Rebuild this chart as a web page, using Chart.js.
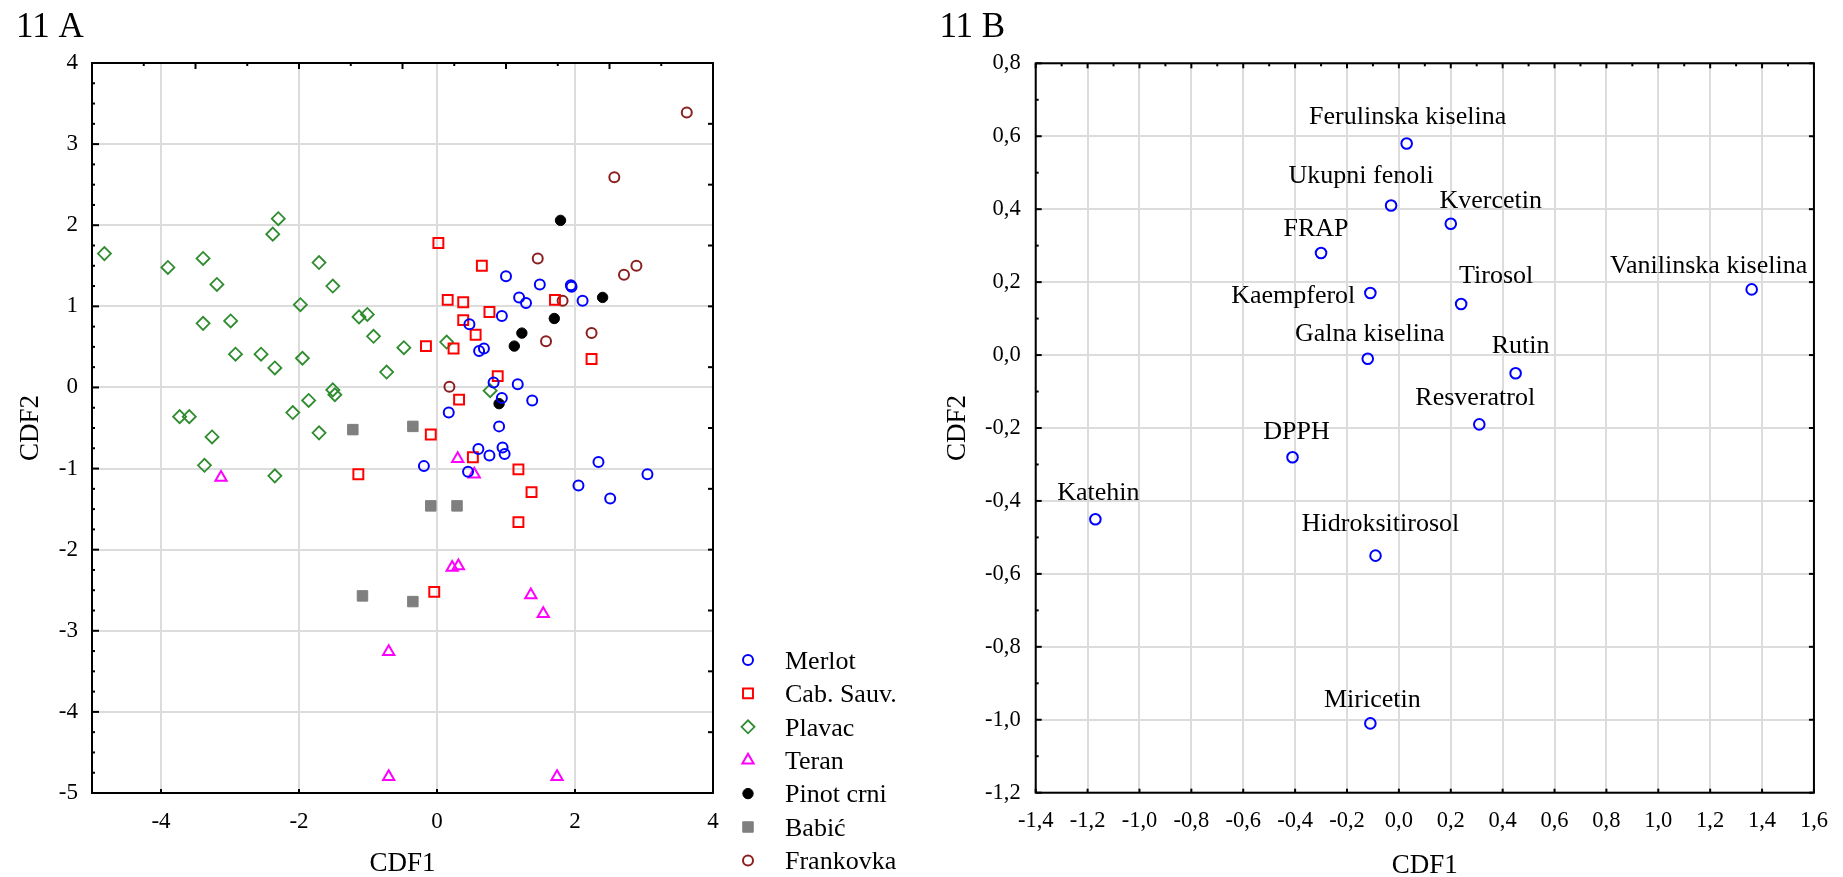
<!DOCTYPE html>
<html>
<head>
<meta charset="utf-8">
<script src="https://cdn.jsdelivr.net/npm/chart.js@4.4.1/dist/chart.umd.min.js"></script>
<style>
  html, body { margin: 0; padding: 0; background: #fff; }
  #wrapA { position: absolute; left: 0; top: 0; width: 925px; height: 877px; }
  #wrapB { position: absolute; left: 925px; top: 0; width: 918px; height: 877px; }
  canvas { display: block; }
</style>
</head>
<body>
<div id="wrapA"><canvas id="cA" width="925" height="877"></canvas></div>
<div id="wrapB"><canvas id="cB" width="918" height="877"></canvas></div>
<script>
// ---------------- DATA : 11 A ----------------
const seriesNames = ['Merlot', 'Cab. Sauv.', 'Plavac', 'Teran', 'Pinot crni', 'Babić', 'Frankovka'];

const merlotX = [1.00, 1.49, 1.94, 1.95, 1.19, 1.29, 2.11, 0.94, 0.47, 0.61, 0.68, 0.82, 1.17, 0.94, 1.38, 0.17, 0.90, 0.60, 0.76, 0.95, 0.98, -0.19, 0.45, 2.34, 3.05, 2.05, 2.51];
const merlotY = [1.37, 1.27, 1.26, 1.24, 1.11, 1.04, 1.07, 0.88, 0.78, 0.45, 0.48, 0.06, 0.04, -0.13, -0.16, -0.31, -0.48, -0.76, -0.84, -0.74, -0.82, -0.97, -1.04, -0.92, -1.07, -1.21, -1.37];

const cabX = [0.02, 0.65, 0.155, 0.38, 0.76, 0.38, 0.56, -0.16, 0.24, 1.71, 2.24, 0.88, 0.32, -0.09, 0.52, -1.14, 1.18, 1.37, 1.18, -0.04];
const cabY = [1.78, 1.50, 1.08, 1.05, 0.93, 0.83, 0.65, 0.51, 0.48, 1.08, 0.35, 0.14, -0.15, -0.58, -0.86, -1.07, -1.01, -1.29, -1.66, -2.52];

const plavacX = [-4.82, -3.90, -3.39, -3.19, -3.39, -2.99, -2.92, -2.55, -2.35, -2.38, -2.30, -1.98, -1.95, -1.71, -1.51, -1.13, -1.01, -0.92, -0.48, -0.73, 0.14, -1.51, -1.48, -1.86, -2.09, 0.77, -3.73, -3.59, -3.26, -1.71, -3.37, -2.35];
const plavacY = [1.65, 1.48, 1.59, 1.27, 0.79, 0.82, 0.41, 0.41, 0.24, 1.89, 2.08, 1.02, 0.36, 1.54, 1.25, 0.87, 0.90, 0.63, 0.49, 0.19, 0.56, -0.03, -0.09, -0.16, -0.31, -0.04, -0.36, -0.36, -0.61, -0.56, -0.96, -1.09];

const teranX = [0.30, 0.54, -3.13, 0.22, 0.31, 1.36, 1.54, -0.70, -0.70, 1.74];
const teranY = [-0.88, -1.07, -1.11, -2.22, -2.20, -2.56, -2.79, -3.26, -4.80, -4.80];

const pinotX = [1.79, 2.40, 1.70, 1.23, 1.12, 0.90];
const pinotY = [2.06, 1.11, 0.85, 0.67, 0.51, -0.20];

const babicX = [-1.22, -0.35, -0.09, 0.29, -1.08, -0.35];
const babicY = [-0.52, -0.48, -1.46, -1.46, -2.57, -2.64];

const frankX = [3.62, 2.57, 1.46, 2.89, 2.71, 1.82, 2.24, 1.58, 0.18];
const frankY = [3.39, 2.59, 1.59, 1.50, 1.39, 1.07, 0.67, 0.57, 0.01];

const xTickLabelsA = ['-4', '-2', '0', '2', '4'];
const yTickLabelsA = ['-5', '-4', '-3', '-2', '-1', '0', '1', '2', '3', '4'];

// ---------------- DATA : 11 B ----------------
const varNames = ['Ferulinska kiselina', 'Ukupni fenoli', 'Kvercetin', 'FRAP', 'Kaempferol', 'Tirosol', 'Vanilinska kiselina', 'Galna kiselina', 'Rutin', 'Resveratrol', 'DPPH', 'Katehin', 'Hidroksitirosol', 'Miricetin'];
const cdf1B = [0.03, -0.03, 0.20, -0.30, -0.11, 0.24, 1.36, -0.12, 0.45, 0.31, -0.41, -1.17, -0.09, -0.11];
const cdf2B = [0.58, 0.41, 0.36, 0.28, 0.17, 0.14, 0.18, -0.01, -0.05, -0.19, -0.28, -0.45, -0.55, -1.01];

const xTickLabelsB = ['-1,4', '-1,2', '-1,0', '-0,8', '-0,6', '-0,4', '-0,2', '0,0', '0,2', '0,4', '0,6', '0,8', '1,0', '1,2', '1,4', '1,6'];
const yTickLabelsB = ['-1,2', '-1,0', '-0,8', '-0,6', '-0,4', '-0,2', '0,0', '0,2', '0,4', '0,6', '0,8'];

// ---------------- helpers ----------------
const SERIF = "'Liberation Serif', 'Times New Roman', serif";
Chart.defaults.font.family = SERIF;
Chart.defaults.color = '#000';

const toNum = s => parseFloat(s.replace(',', '.'));
const zip = (xs, ys) => xs.map((x, i) => ({ x: x, y: ys[i] }));

function drawMarker(ctx, ds, x, y) {
  const r = ds.pointRadius;
  ctx.beginPath();
  switch (ds.pointStyle) {
    case 'rect': { const s = Math.SQRT1_2 * r; ctx.rect(x - s, y - s, 2 * s, 2 * s); break; }
    case 'rectRot': ctx.moveTo(x - r, y); ctx.lineTo(x, y - r); ctx.lineTo(x + r, y); ctx.lineTo(x, y + r); ctx.closePath(); break;
    case 'triangle': {
      for (let k = 0; k < 3; k++) {
        const a = k * 2 * Math.PI / 3;
        const px = x + Math.sin(a) * r, py = y - Math.cos(a) * r;
        if (k === 0) ctx.moveTo(px, py); else ctx.lineTo(px, py);
      }
      ctx.closePath(); break;
    }
    default: ctx.arc(x, y, r, 0, Math.PI * 2);
  }
  if (ds.pointBackgroundColor && ds.pointBackgroundColor !== 'transparent') { ctx.fillStyle = ds.pointBackgroundColor; ctx.fill(); }
  ctx.lineWidth = ds.pointBorderWidth; ctx.strokeStyle = ds.pointBorderColor; ctx.stroke();
}

// frame around the plot area + small inward tick marks (Statistica style)
const frameTicks = {
  id: 'frameTicks',
  afterDraw(chart, args, o) {
    const { ctx, chartArea: a } = chart;
    const xs = chart.scales.x, ys = chart.scales.y;
    ctx.save();
    ctx.strokeStyle = '#000';
    ctx.lineWidth = 2;
    ctx.strokeRect(a.left, a.top, a.right - a.left, a.bottom - a.top);
    for (const side of ['top', 'bottom', 'left', 'right']) {
      const s = o[side]; if (!s) continue;
      const sc = (side === 'top' || side === 'bottom') ? xs : ys;
      for (let i = 0; i < 500; i++) {
        const v = s.from + i * s.step;
        if (v > sc.max + 1e-9) break;
        if (v < sc.min - 1e-9) continue;
        const major = s.majorEvery && ((i - (s.majorShift || 0)) % s.majorEvery === 0);
        const len = major ? s.majorLen : s.len;
        const p = sc.getPixelForValue(v);
        ctx.beginPath();
        if (side === 'top') { ctx.moveTo(p, a.top); ctx.lineTo(p, a.top + len); }
        if (side === 'bottom') { ctx.moveTo(p, a.bottom); ctx.lineTo(p, a.bottom - len); }
        if (side === 'left') { ctx.moveTo(a.left, p); ctx.lineTo(a.left + len, p); }
        if (side === 'right') { ctx.moveTo(a.right, p); ctx.lineTo(a.right - len, p); }
        ctx.stroke();
      }
    }
    ctx.restore();
  }
};

// legend placed to the lower right of chart A
const sideLegend = {
  id: 'sideLegend',
  afterDraw(chart) {
    const { ctx, chartArea: a } = chart;
    const mx = a.right + 35, tx = a.right + 72, y0 = a.bottom - 133, dy = 33.4;
    ctx.save();
    ctx.font = '26px ' + SERIF;
    ctx.textBaseline = 'middle';
    ctx.textAlign = 'left';
    chart.data.datasets.forEach((ds, i) => {
      const y = y0 + i * dy;
      drawMarker(ctx, ds, mx, y);
      ctx.fillStyle = '#000';
      ctx.fillText(ds.label, tx, y + 2);
    });
    ctx.restore();
  }
};

// text labels next to the points of chart B: [dx, dy, align]
const labelPlacement = {
  'Ferulinska kiselina': [1, -26, 'center'],
  'Ukupni fenoli': [-30, -29, 'center'],
  'Kvercetin': [40, -23, 'center'],
  'FRAP': [-5, -24, 'center'],
  'Kaempferol': [-15, 3, 'right'],
  'Tirosol': [35, -28, 'center'],
  'Vanilinska kiselina': [-43, -23, 'center'],
  'Galna kiselina': [2, -25, 'center'],
  'Rutin': [5, -27, 'center'],
  'Resveratrol': [-4, -26, 'center'],
  'DPPH': [4, -25, 'center'],
  'Katehin': [3, -26, 'center'],
  'Hidroksitirosol': [5, -31, 'center'],
  'Miricetin': [2, -23, 'center']
};
const pointLabels = {
  id: 'pointLabels',
  afterDatasetsDraw(chart) {
    const ctx = chart.ctx;
    const meta = chart.getDatasetMeta(0);
    ctx.save();
    ctx.font = '26px ' + SERIF;
    ctx.fillStyle = '#000';
    ctx.textBaseline = 'middle';
    meta.data.forEach((pt, i) => {
      const name = chart.data.labels[i];
      const pl = labelPlacement[name] || [0, -26, 'center'];
      ctx.textAlign = pl[2];
      ctx.fillText(name, pt.x + pl[0], pt.y + pl[1]);
    });
    ctx.restore();
  }
};

function scaleCfg(opts) {
  return {
    type: 'linear',
    position: opts.position,
    min: opts.min, max: opts.max,
    afterBuildTicks: sc => { sc.ticks = opts.labels.map(s => ({ value: toNum(s) })); },
    afterFit: sc => { if (opts.position === 'left') sc.width = opts.size; else sc.height = opts.size; },
    ticks: {
      callback: (v, i) => opts.labels[i],
      font: { size: opts.tickSize, family: SERIF },
      color: '#000',
      padding: opts.tickPad,
      autoSkip: false,
      maxRotation: 0,
      minRotation: 0
    },
    grid: { color: '#dcdcdc', lineWidth: 2, drawTicks: false },
    border: { display: false },
    title: {
      display: true, text: opts.title, color: '#000',
      font: { size: 27, family: SERIF, lineHeight: 0.8 },
      padding: opts.titlePad
    }
  };
}

// ---------------- CHART A ----------------
const styleA = [
  { pointStyle: 'circle', pointRadius: 5, pointBorderColor: '#0000ff', pointBackgroundColor: 'transparent', pointBorderWidth: 2 },
  { pointStyle: 'rect', pointRadius: 7, pointBorderColor: '#ff0000', pointBackgroundColor: 'transparent', pointBorderWidth: 2 },
  { pointStyle: 'rectRot', pointRadius: 6.5, pointBorderColor: '#2e8b2e', pointBackgroundColor: 'transparent', pointBorderWidth: 1.8 },
  { pointStyle: 'triangle', pointRadius: 6.5, pointBorderColor: '#ff00ff', pointBackgroundColor: 'transparent', pointBorderWidth: 2 },
  { pointStyle: 'circle', pointRadius: 5.2, pointBorderColor: '#000000', pointBackgroundColor: '#000000', pointBorderWidth: 1 },
  { pointStyle: 'rect', pointRadius: 7.4, pointBorderColor: '#7f7f7f', pointBackgroundColor: '#7f7f7f', pointBorderWidth: 1 },
  { pointStyle: 'circle', pointRadius: 5, pointBorderColor: '#8b1f1f', pointBackgroundColor: 'transparent', pointBorderWidth: 2 }
];
const seriesA = [zip(merlotX, merlotY), zip(cabX, cabY), zip(plavacX, plavacY), zip(teranX, teranY), zip(pinotX, pinotY), zip(babicX, babicY), zip(frankX, frankY)];

new Chart(document.getElementById('cA'), {
  type: 'scatter',
  data: {
    datasets: seriesNames.map((n, i) => Object.assign({ label: n, data: seriesA[i], showLine: false, pointHoverRadius: styleA[i].pointRadius }, styleA[i]))
  },
  options: {
    responsive: false, animation: false, devicePixelRatio: 1, events: [],
    layout: { padding: { left: 16, right: 212, top: 0, bottom: 0 } },
    scales: {
      x: scaleCfg({ position: 'bottom', min: -5, max: 4, labels: xTickLabelsA, size: 84, tickSize: 23, tickPad: 15, title: 'CDF1', titlePad: { top: 0, bottom: 2 } }),
      y: scaleCfg({ position: 'left', min: -5, max: 4, labels: yTickLabelsA, size: 76, tickSize: 23, tickPad: 14, title: 'CDF2', titlePad: { top: 4, bottom: 0 } })
    },
    plugins: {
      legend: { display: false },
      tooltip: { enabled: false },
      title: { display: true, text: '11 A', align: 'start', color: '#000', font: { size: 35, family: SERIF, weight: 'normal', lineHeight: 1.2 }, padding: { top: 7, bottom: 14 } },
      frameTicks: {
        top: { from: -4.25, step: 0.75, len: 3, majorEvery: 2, majorShift: 1, majorLen: 6 },
        right: { from: -4.25, step: 0.75, len: 5 },
        left: { from: -5, step: 0.25, len: 3, majorEvery: 4, majorLen: 7 },
        bottom: { from: -4, step: 2, len: 4 }
      }
    }
  },
  plugins: [frameTicks, sideLegend]
});

// ---------------- CHART B ----------------
new Chart(document.getElementById('cB'), {
  type: 'scatter',
  data: {
    labels: varNames,
    datasets: [{
      label: 'Varijable',
      data: zip(cdf1B, cdf2B),
      showLine: false,
      pointStyle: 'circle', pointRadius: 5.3, pointHoverRadius: 5.3,
      pointBorderColor: '#0000ff', pointBackgroundColor: 'transparent', pointBorderWidth: 2
    }]
  },
  options: {
    responsive: false, animation: false, devicePixelRatio: 1, events: [],
    layout: { padding: { left: 14.4, right: 20.7, top: 0, bottom: 0 } },
    scales: {
      x: scaleCfg({ position: 'bottom', min: -1.4, max: 1.6, labels: xTickLabelsB, size: 84.3, tickSize: 22.5, tickPad: 15, title: 'CDF1', titlePad: { top: 0, bottom: 0.5 } }),
      y: scaleCfg({ position: 'left', min: -1.2, max: 0.8, labels: yTickLabelsB, size: 96.3, tickSize: 22.5, tickPad: 15, title: 'CDF2', titlePad: { top: 7.4, bottom: 0 } })
    },
    plugins: {
      legend: { display: false },
      tooltip: { enabled: false },
      title: { display: true, text: '11 B', align: 'start', color: '#000', font: { size: 35, family: SERIF, weight: 'normal', lineHeight: 1.2 }, padding: { top: 7, bottom: 14.3 } },
      frameTicks: {
        top: { from: -1.4, step: 0.1, len: 3, majorEvery: 2, majorLen: 5 },
        left: { from: -1.2, step: 0.1, len: 3, majorEvery: 2, majorLen: 6 },
        right: { from: -1.2, step: 0.2, len: 5 },
        bottom: { from: -1.4, step: 0.2, len: 4 }
      }
    }
  },
  plugins: [frameTicks, pointLabels]
});
</script>
</body>
</html>
